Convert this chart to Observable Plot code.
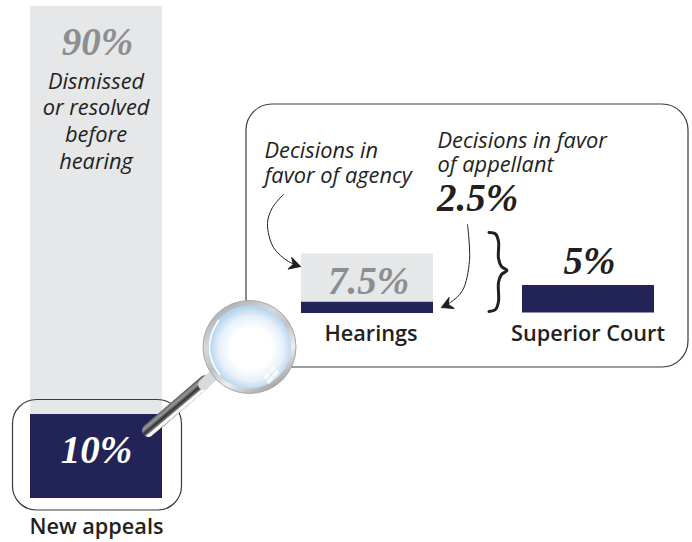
<!DOCTYPE html>
<html><head><meta charset="utf-8">
<script src="https://cdn.jsdelivr.net/npm/d3@7"></script>
<script src="https://cdn.jsdelivr.net/npm/@observablehq/plot@0.6"></script>
<style>html,body{margin:0;background:#fff}svg{display:block}</style>
</head><body><div id="chart"></div>
<script>
const shareNames = ["Dismissed or resolved before hearing","New appeals","Decisions in favor of agency","Decisions in favor of appellant","Superior Court"];
const shareValues = [90,10,7.5,2.5,5];
const shareLabels = ["90%","10%","7.5%","2.5%","5%"];
const groupNames = ["New appeals","Hearings","Superior Court"];

// layout (page units), separate from the data
const W=692,H=542, navy="#222357", grey="#e6e7e8";
const groups = {
  "New appeals":{x1:30,x2:162,base:498,unit:8.4},
  "Hearings":{x1:301,x2:433,base:313,unit:4.6},
  "Superior Court":{x1:522,x2:654,base:312.5,unit:5.5}
};
const bars = [
  {g:"New appeals",v:shareValues[1],from:0,fill:navy},
  {g:"New appeals",v:shareValues[0],from:shareValues[1]*8.4,fill:grey,u:4.533},
  {g:"Hearings",v:shareValues[3],from:0,fill:navy},
  {g:"Hearings",v:shareValues[2],from:shareValues[3]*4.6,fill:grey,u:6.4},
  {g:"Superior Court",v:shareValues[4],from:0,fill:navy}
];
const bx1=d=>groups[d.g].x1, bx2=d=>groups[d.g].x2;
const by1=d=>groups[d.g].base-d.from, by2=d=>groups[d.g].base-d.from-d.v*(d.u??groups[d.g].unit);

const sans='"Open Sans"', serif='"Liberation Serif"';
const dismissedNote=[{t:"Dismissed\nor resolved\nbefore\nhearing",x:95.5,y:168}];
const decisionNotes=[
  {t:"Decisions in\nfavor of agency",x:264,y:182,lh:1.12},
  {t:"Decisions in favor\nof appellant",x:437,y:171.5,lh:1.12}
];
const pctLabels=[
  {t:shareLabels[0],x:97,y:54,c:"#8c8e91"},
  {t:shareLabels[1],x:96,y:462.5,c:"#fff"},
  {t:shareLabels[2],x:368,y:293.5,c:"#8c8e91"},
  {t:shareLabels[3],x:477,y:210.5,c:"#231f20"},
  {t:shareLabels[4],x:589,y:273.5,c:"#231f20"}
];
const catLabels=[
  {t:groupNames[0],x:96,y:533},{t:groupNames[1],x:370.5,y:340},{t:groupNames[2],x:587.5,y:340}
];
const arrowA=[[283,194],[272,207],[267,223],[273,247],[288,261],[300,266]];
const arrowB=[[467,224],[469,260],[462,290],[450,302],[441,307]];
const braceUp=[[488.5,232],[495,233.5],[498,241],[498,258],[501,266],[506.5,270],[501,274],[498,282],[498,301],[495,309],[488.5,311]];
const hx1=148,hy1=430,hx2=205,hy2=381, cx=249,cy=346.5;
const crescent=[[218,320],[211,334],[209,349],[212,362],[219,374]];
const windowPane=[[273,365],[279,372],[268,384],[263,377]];
const paneCross=[[[268,371],[274,378]],[[276,368],[265.5,380.5]]];

function arrowMarker(color){
  const id="ah"+Math.random().toString(36).slice(2);
  const m=d3.create("svg:marker").attr("id",id).attr("markerUnits","userSpaceOnUse")
    .attr("viewBox","-12 -7 14 14").attr("markerWidth",14).attr("markerHeight",14)
    .attr("orient","auto").attr("refX",0).attr("refY",0);
  m.append("path").attr("d","M-11,-6 L0,0 L-11,6 L-7.5,0 Z").attr("fill",color);
  return m.node();
}
const defsMark=()=>{
  const d=d3.create("svg:defs");
  const lens=d.append("radialGradient").attr("id","lens").attr("cx","52%").attr("cy","52%").attr("r","50%");
  [[0,"#fff"],[.5,"#fff"],[.78,"#e6f0f9"],[1,"#b6d5ee"]].forEach(([o,c])=>lens.append("stop").attr("offset",o).attr("stop-color",c));
  const rim=d.append("linearGradient").attr("id","rim").attr("x1","20%").attr("y1","0%").attr("x2","80%").attr("y2","100%");
  [[0,"#a6a8ab"],[.3,"#d8d9db"],[.5,"#bfc1c3"],[.7,"#eeeeef"],[1,"#8f9194"]].forEach(([o,c])=>rim.append("stop").attr("offset",o).attr("stop-color",c));
  const nx=4.3, ny=5.1;
  const hd=d.append("linearGradient").attr("id","handle").attr("gradientUnits","userSpaceOnUse")
    .attr("x1",176.5-nx).attr("y1",405.5-ny).attr("x2",176.5+nx).attr("y2",405.5+ny);
  [[0,"#5d5e60"],[.25,"#97999b"],[.5,"#2f3031"],[.68,"#77787a"],[.76,"#fff"],[.95,"#f2f2f2"],[1,"#555"]].forEach(([o,c])=>hd.append("stop").attr("offset",o).attr("stop-color",c));
  return d.node();
};

const plot=Plot.plot({
  width:W,height:H,margin:0,
  x:{domain:[0,W],range:[0,W],axis:null},
  y:{domain:[0,H],range:[0,H],axis:null},
  style:{background:"#fff"},
  marks:[
    defsMark,
    Plot.rect(bars,{x1:bx1,x2:bx2,y1:by1,y2:by2,fill:d=>d.fill}),
    Plot.rect([{x1:246,x2:688,y1:104,y2:367}],{x1:"x1",x2:"x2",y1:"y1",y2:"y2",fill:"none",stroke:"#3a3a3c",strokeWidth:1.2,rx:26}),
    Plot.rect([{x1:12.5,x2:181.5,y1:399.5,y2:510}],{x1:"x1",x2:"x2",y1:"y1",y2:"y2",fill:"none",stroke:"#3a3a3c",strokeWidth:1.2,rx:24}),
    Plot.text(dismissedNote,{x:"x",y:"y",text:"t",textAnchor:"middle",lineAnchor:"bottom",lineHeight:1.223,fontFamily:sans,fontStyle:"italic",fontSize:21.8,fill:"#231f20"}),
    Plot.text(decisionNotes,{x:"x",y:"y",text:"t",textAnchor:"start",lineAnchor:"bottom",lineHeight:1.12,fontFamily:sans,fontStyle:"italic",fontSize:21.8,fill:"#231f20"}),
    Plot.text(pctLabels,{x:"x",y:"y",text:"t",fill:"c",fontSize:39,fontFamily:serif,fontStyle:"italic",fontWeight:"bold",textAnchor:"middle",lineAnchor:"bottom"}),
    Plot.text(catLabels,{x:"x",y:"y",text:"t",fontFamily:sans,fontWeight:600,fontSize:21.7,fill:"#231f20",lineAnchor:"bottom",textAnchor:"middle"}),
    Plot.line(arrowA,{x:"0",y:"1",curve:"catmull-rom",stroke:"#231f20",strokeWidth:1,markerEnd:arrowMarker}),
    Plot.line(arrowB,{x:"0",y:"1",curve:"catmull-rom",stroke:"#231f20",strokeWidth:1,markerEnd:arrowMarker}),
    Plot.line(braceUp,{x:"0",y:"1",curve:"catmull-rom",stroke:"#231f20",strokeWidth:3,strokeLinecap:"round"}),
    Plot.line([[hx1,hy1],[hx2,hy2]],{x:"0",y:"1",stroke:"url(#handle)",strokeWidth:13,strokeLinecap:"round"}),
    Plot.line([[203,384],[214,374]],{x:"0",y:"1",stroke:"#d9dadb",strokeWidth:11}),
    Plot.dot([[cx,cy]],{x:"0",y:"1",r:46.5,fill:"url(#rim)",stroke:"#a6a8ab",strokeWidth:1}),
    Plot.dot([[cx,cy]],{x:"0",y:"1",r:41.5,fill:"url(#lens)"}),
    Plot.line(crescent,{x:"0",y:"1",curve:"catmull-rom",stroke:"#fff",strokeWidth:1.6}),
    Plot.line(windowPane,{x:"0",y:"1",fill:"#fff",fillOpacity:.75,stroke:"none"}),
    ...paneCross.map(s=>Plot.line(s,{x:"0",y:"1",stroke:"#cfe0ef",strokeWidth:1}))
  ]
});
document.getElementById("chart").append(plot);
</script></body></html>
